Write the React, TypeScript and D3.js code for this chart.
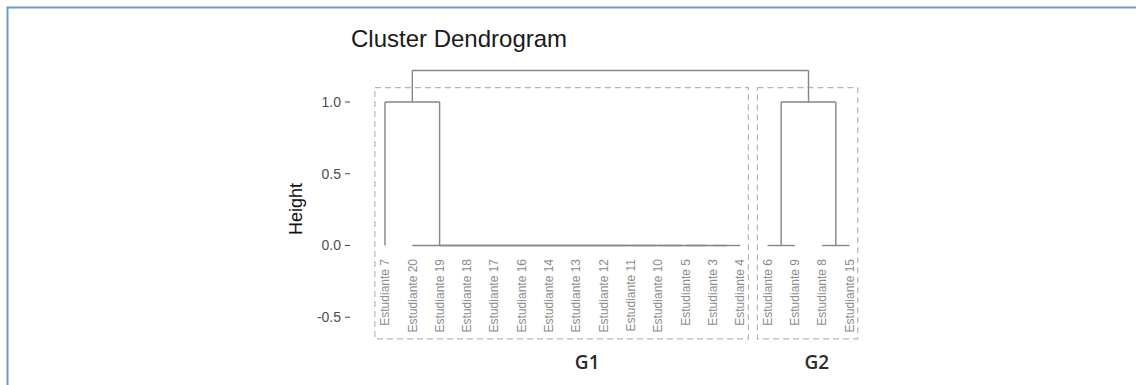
import React from 'react'
import * as d3 from 'd3'

// leaf order as drawn, left to right
const leaves = [
  'Estudiante 7', 'Estudiante 20', 'Estudiante 19', 'Estudiante 18', 'Estudiante 17',
  'Estudiante 16', 'Estudiante 14', 'Estudiante 13', 'Estudiante 12', 'Estudiante 11',
  'Estudiante 10', 'Estudiante 5', 'Estudiante 3', 'Estudiante 4',
  'Estudiante 6', 'Estudiante 9', 'Estudiante 8', 'Estudiante 15',
]

// hclust style merges: negative = leaf (-(index+1)), positive = earlier merge row (1-based)
const mergeLeft = [-13, -12, -11, -10, -9, -8, -7, -6, -5, -4, -3, -2, -15, -17, -1, 13, 15]
const mergeRight = [-14, 1, 2, 3, 4, 5, 6, 7, 8, 9, 10, 11, -16, -18, 12, 14, 16]
const mergeHeight = [0, 0, 0, 0, 0, 0, 0, 0, 0, 0, 0, 0, 0, 0, 1.0, 1.0, 1.22]

const yTicks = [-0.5, 0, 0.5, 1.0]

const groupNames = ['G1', 'G2']
const groupFirst = [0, 14]
const groupLast = [13, 17]
const groupLabelAt = [7.4, 15.8]

const App = () => {
  const width = 1136
  const height = 385

  const x = d3.scaleLinear().domain([0, leaves.length - 1]).range([385, 849.5])
  const y = d3.scaleLinear().domain([0, 1]).range([245.5, 102])

  // node positions
  const nodeX: number[] = []
  const nodeH: number[] = []
  const pos = (ref: number) => (ref < 0 ? -ref - 1 : nodeX[ref - 1])
  const hgt = (ref: number) => (ref < 0 ? 0 : nodeH[ref - 1])

  const segs: { x1: number; y1: number; x2: number; y2: number }[] = []
  mergeHeight.forEach((h, i) => {
    const l = mergeLeft[i]
    const r = mergeRight[i]
    const lx = pos(l)
    const rx = pos(r)
    segs.push({ x1: x(lx), y1: y(h), x2: x(rx), y2: y(h) })
    segs.push({ x1: x(lx), y1: y(h), x2: x(lx), y2: y(hgt(l)) })
    segs.push({ x1: x(rx), y1: y(h), x2: x(rx), y2: y(hgt(r)) })
    nodeX.push((lx + rx) / 2)
    nodeH.push(h)
  })

  const lineColor = '#858585'

  return (
    <div style={{ position: 'absolute', left: 0, top: 0 }}>
      <svg width={width} height={height} style={{ display: 'block', fontFamily: 'Liberation Sans, Arial, sans-serif' }}>
        <rect width={width} height={height} fill="#fff" />
        <path d={`M7.5,${height} V7.5 H${width}`} fill="none" stroke="#7198c8" strokeWidth={2} />

        <text x={351} y={47} fontSize={24} fill="#1a1a1a">Cluster Dendrogram</text>

        {/* y axis */}
        {yTicks.map(t => (
          <g key={`t${t}`}>
            <line x1={345} x2={350} y1={y(t)} y2={y(t)} stroke="#444" strokeWidth={1} />
            <text x={341} y={y(t)} dy="0.35em" textAnchor="end" fontSize={14} fill="#4d4d4d">
              {t.toFixed(1)}
            </text>
          </g>
        ))}
        <text transform="translate(302,209) rotate(-90)" textAnchor="middle" fontSize={18} fill="#111">Height</text>

        {/* cluster boxes */}
        {groupNames.map((g, i) => (
          <g key={g}>
            <rect
              x={x(groupFirst[i] - 0.37)}
              y={y(1.1)}
              width={x(groupLast[i] + 0.3) - x(groupFirst[i] - 0.37)}
              height={y(-0.65) - y(1.1)}
              fill="none"
              stroke="#b5b5b5"
              strokeWidth={1.2}
              strokeDasharray="6,4"
            />
            <text x={x(groupLabelAt[i])} y={369} textAnchor="middle" fontSize={19} fontWeight={600}
              fontFamily="Open Sans, sans-serif" fill="#2b2b2b">{g}</text>
          </g>
        ))}

        {/* dendrogram */}
        {segs.map((s, i) => (
          <line key={`s${i}`} x1={s.x1} y1={s.y1} x2={s.x2} y2={s.y2} stroke={lineColor} strokeWidth={1.4} />
        ))}

        {/* leaf labels */}
        {leaves.map((d, i) => (
          <text key={d} transform={`translate(${x(i)},259) rotate(-90)`} dy="0.35em" textAnchor="end"
            fontSize={12} fill="#8c8c8c">{d}</text>
        ))}
      </svg>
    </div>
  )
}

export default App
